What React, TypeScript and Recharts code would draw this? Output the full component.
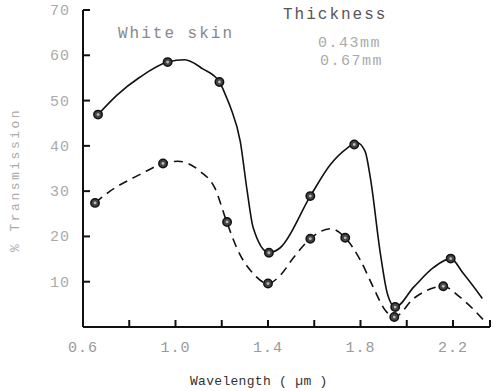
import {
  ComposedChart,
  Line,
  Scatter,
  XAxis,
  YAxis,
} from 'recharts';

// curve shapes (x in µm, y in %)
const SOLID_CURVE_X = [0.665, 0.747, 0.847, 0.966, 1.04, 1.118, 1.19, 1.223, 1.24, 1.28, 1.31, 1.336, 1.404, 1.453, 1.583, 1.67, 1.74, 1.785, 1.82, 1.843, 1.886, 1.916, 1.95, 2.03, 2.115, 2.19, 2.245, 2.327];
const SOLID_CURVE_Y = [46.9, 51.2, 55.2, 58.5, 59, 57, 54.1, 50.4, 48.2, 41, 30, 21.9, 16.4, 17.5, 28.9, 35.9, 39.4, 40.7, 38.8, 32.8, 16.2, 7.4, 4.4, 8.8, 13.1, 15.1, 11.8, 6.3];

const DASHED_CURVE_X = [0.652, 0.717, 0.847, 0.946, 1.01, 1.106, 1.17, 1.223, 1.27, 1.336, 1.40, 1.453, 1.51, 1.583, 1.67, 1.734, 1.8, 1.855, 1.907, 1.946, 2.03, 2.158, 2.23, 2.34];
const DASHED_CURVE_Y = [27.4, 30, 33.7, 36.1, 36.6, 34.4, 30.7, 23, 16.9, 11.8, 9.6, 11.4, 15.3, 19.5, 21.7, 19.7, 14.7, 8.8, 3.7, 2.2, 6.3, 9.0, 6.6, 1.1];

// measured points
const SOLID_PTS_X = [0.665, 0.966, 1.19, 1.404, 1.583, 1.773, 1.95, 2.19];
const SOLID_PTS_Y = [46.9, 58.5, 54.1, 16.4, 28.9, 40.3, 4.4, 15.1];
const DASHED_PTS_X = [0.652, 0.946, 1.223, 1.40, 1.583, 1.734, 1.946, 2.158];
const DASHED_PTS_Y = [27.4, 36.1, 23.2, 9.6, 19.5, 19.7, 2.2, 9.0];

const X_TICKS = [0.6, 0.8, 1.0, 1.2, 1.4, 1.6, 1.8, 2.0, 2.2, 2.36];
const X_LABELS = [0.6, 1.0, 1.4, 1.8, 2.2];
const Y_TICKS = [0, 10, 20, 30, 40, 50, 60, 70];

const zip = (xs: number[], ys: number[]) => xs.map((x, i) => ({ x, y: ys[i] }));

const solidCurve = zip(SOLID_CURVE_X, SOLID_CURVE_Y);
const dashedCurve = zip(DASHED_CURVE_X, DASHED_CURVE_Y);
const solidPts = zip(SOLID_PTS_X, SOLID_PTS_Y);
const dashedPts = zip(DASHED_PTS_X, DASHED_PTS_Y);

const FONT = '"Liberation Mono", "DejaVu Sans Mono", monospace';

const XTick = (props: any) => {
  const { x, y, payload } = props;
  const v = payload.value as number;
  return (
    <g>
      <line x1={x} x2={x} y1={y} y2={y - 7} stroke="#111" strokeWidth={2} />
      {X_LABELS.includes(v) && (
        <text x={x} y={y + 25} textAnchor="middle" fontFamily={FONT} fontSize={15} letterSpacing={1} fill="#999">
          {v.toFixed(1)}
        </text>
      )}
    </g>
  );
};

const YTick = (props: any) => {
  const { x, y, payload } = props;
  const v = payload.value as number;
  return (
    <g>
      <line x1={x} x2={x + 7} y1={y} y2={y} stroke="#111" strokeWidth={2} />
      {v > 0 && (
        <text x={x - 13} y={y + 5} textAnchor="end" fontFamily={FONT} fontSize={15} letterSpacing={1} fill="#aaa">
          {v}
        </text>
      )}
    </g>
  );
};

const Dot = (props: any) => {
  const { cx, cy } = props;
  return (
    <g>
      <circle cx={cx} cy={cy} r={4.2} fill="#444" stroke="#111" strokeWidth={1.5} />
      <circle cx={cx} cy={cy} r={1.4} fill="#bbb" />
    </g>
  );
};

const txt = (left: number, top: number, extra: React.CSSProperties = {}): React.CSSProperties => ({
  position: 'absolute',
  left,
  top,
  fontFamily: FONT,
  whiteSpace: 'nowrap',
  lineHeight: 1,
  ...extra,
});

export default function App() {
  return (
    <div style={{ position: 'absolute', left: 0, top: 0, width: 495, height: 391, background: '#fff' }}>
      <ComposedChart width={495} height={391} margin={{ top: 10, right: 5, bottom: 34, left: 0 }}>
        <XAxis
          type="number"
          dataKey="x"
          domain={[0.6, 2.36]}
          ticks={X_TICKS}
          interval={0}
          tickSize={0}
          tickMargin={0}
          height={30}
          tick={<XTick />}
          axisLine={{ stroke: '#111', strokeWidth: 2 }}
          allowDataOverflow
        />
        <YAxis
          type="number"
          dataKey="y"
          domain={[0, 70]}
          ticks={Y_TICKS}
          interval={0}
          tickSize={0}
          tickMargin={0}
          width={83}
          tick={<YTick />}
          axisLine={{ stroke: '#111', strokeWidth: 2 }}
        />
        <Line
          data={solidCurve}
          dataKey="y"
          type="monotone"
          stroke="#111"
          strokeWidth={1.6}
          dot={false}
          isAnimationActive={false}
        />
        <Line
          data={dashedCurve}
          dataKey="y"
          type="monotone"
          stroke="#111"
          strokeWidth={1.6}
          strokeDasharray="9 6"
          dot={false}
          isAnimationActive={false}
        />
        <Scatter data={solidPts} dataKey="y" shape={<Dot />} isAnimationActive={false} />
        <Scatter data={dashedPts} dataKey="y" shape={<Dot />} isAnimationActive={false} />
      </ComposedChart>

      <div style={txt(118, 26, { fontSize: 16, letterSpacing: 2, color: '#888' })}>White skin</div>
      <div style={txt(283, 7, { fontSize: 16, letterSpacing: 2, color: '#555' })}>Thickness</div>
      <div style={txt(318, 36, { fontSize: 15, letterSpacing: 1.5, color: '#aaa' })}>0.43mm</div>
      <div style={txt(320, 54, { fontSize: 15, letterSpacing: 1.5, color: '#aaa' })}>0.67mm</div>
      <div style={txt(190, 375, { fontSize: 13, letterSpacing: 0.3, color: '#333' })}>Wavelength ( µm )</div>
      <div
        style={txt(15, 180, {
          fontSize: 13,
          letterSpacing: 2.5,
          color: '#aaa',
          transform: 'translate(-50%, -50%) rotate(-90deg)',
        })}
      >
        % Transmission
      </div>
    </div>
  );
}
